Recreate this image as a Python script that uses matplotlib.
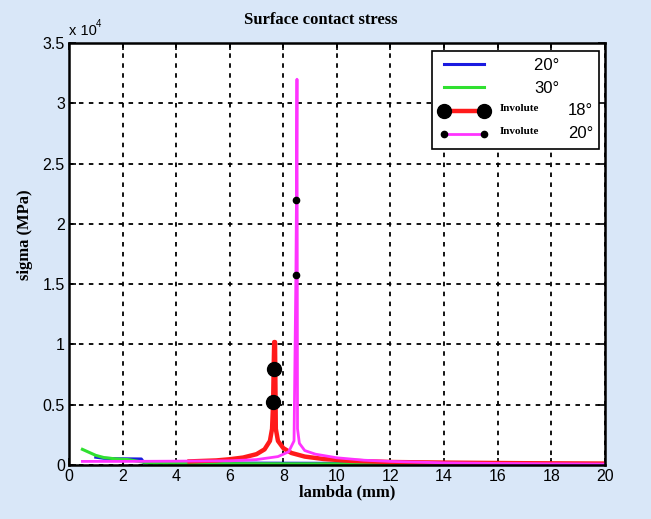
import matplotlib.pyplot as plt

# --- data ---
green_x = [0.5, 0.7, 1.0, 1.3, 1.7, 2.2, 3.0, 5.0, 8.0, 12.0, 16.0, 20.0]
green_y = [1300, 1100, 800, 620, 520, 450, 150, 120, 100, 100, 90, 80]

blue_x = [1.0, 1.3, 1.8, 2.7, 2.8, 5.0, 8.0, 12.0, 16.0, 20.0]
blue_y = [650, 560, 520, 500, 180, 170, 150, 130, 120, 110]

red_x = [4.5, 5.5, 6.0, 6.5, 7.0, 7.3, 7.5, 7.58, 7.62, 7.64, 7.66, 7.69, 7.72, 7.8, 8.0, 8.3,
         8.8, 9.5, 10.5, 12.0, 14.0, 17.0, 20.0]
red_y = [300, 380, 480, 620, 900, 1300, 2000, 3000, 5200, 8000, 10200, 10200, 3000, 2000, 1400,
         1000, 700, 500, 350, 250, 200, 150, 120]
red_marks = [8, 9]

mag_x = [0.5, 2.0, 4.0, 6.0, 7.0, 7.8, 8.2, 8.4, 8.47, 8.49, 8.51, 8.53, 8.6, 8.8, 9.2, 10.0,
         11.0, 12.0, 14.0, 16.0, 18.0, 20.0]
mag_y = [300, 300, 320, 350, 450, 700, 1100, 2000, 15800, 22000, 32000, 3000, 1800, 1200, 900,
         600, 400, 300, 180, 130, 100, 80]
mag_marks = [8, 9]

# the two involute rows get their angle text placed separately
legend_labels = ['20°' + '\u00a0' * 7, '30°', '', '']
involute_angles = ['18°', '20°']

bg = '#d9e7f8'
fig = plt.figure(figsize=(6.51, 5.19), dpi=100, facecolor=bg)
ax = fig.add_axes([0.106, 0.104, 0.823, 0.813])

lb, = ax.plot(blue_x, blue_y, color='#1a1ae0', lw=2.2)
lg, = ax.plot(green_x, green_y, color='#30e030', lw=2.2)
lr, = ax.plot(red_x, red_y, color='#ff1a1a', lw=3.2, marker='o', markersize=10,
              markerfacecolor='black', markeredgecolor='black', markevery=red_marks)
lm, = ax.plot(mag_x, mag_y, color='#ff33ff', lw=2.0, marker='o', markersize=4.5,
              markerfacecolor='black', markeredgecolor='black', markevery=mag_marks)

ax.set_xlim(0, 20)
ax.set_ylim(0, 35000)
ax.set_xticks(range(0, 21, 2))
ax.set_yticks([0, 5000, 10000, 15000, 20000, 25000, 30000, 35000])
ax.set_yticklabels(['0', '0.5', '1', '1.5', '2', '2.5', '3', '3.5'])
ax.grid(True, color='black', linestyle=(0, (2.5, 3)), linewidth=1.3)
ax.tick_params(direction='in', top=True, right=True, length=5, width=1.2,
               labelsize=11.5, pad=3)
for lab in ax.get_xticklabels() + ax.get_yticklabels():
    lab.set_family('Liberation Sans')
for sp in ax.spines.values():
    sp.set_linewidth(1.8)

ax.set_title('Surface contact stress', family='Liberation Serif', weight='bold',
             fontsize=12, pad=14, x=0.47)
ax.set_xlabel('lambda (mm)', family='Liberation Serif', weight='bold', fontsize=12)
ax.xaxis.set_label_coords(0.519, -0.045)
ax.set_ylabel('sigma (MPa)', family='Liberation Serif', weight='bold', fontsize=12)
ax.yaxis.set_label_coords(-0.067, 0.545)

fig.text(69 / 651, 1 - 35 / 519, 'x 10', family='Liberation Sans', fontsize=10.5)
fig.text(96 / 651, 1 - 27 / 519, '4', family='Liberation Sans', fontsize=7)

leg = ax.legend([lb, lg, lr, lm], legend_labels, loc='upper left',
                bbox_to_anchor=((432 - 69) / 536, (465 - 51) / 422),
                borderaxespad=0, borderpad=0.4, numpoints=2, handlelength=3.0,
                handletextpad=2.75, labelspacing=0.5, fancybox=False, framealpha=1,
                edgecolor='black', prop={'family': 'Liberation Sans', 'size': 12})
leg.get_frame().set_linewidth(1.2)
for yy, ang in zip([0.841, 0.786], involute_angles):
    ax.text(0.804, yy + 0.004, 'Involute', transform=ax.transAxes, family='Liberation Serif',
            weight='bold', fontsize=8, va='center', zorder=10)
    ax.text(0.931, yy, ang, transform=ax.transAxes, family='Liberation Sans',
            fontsize=12, va='center', zorder=10)

plt.savefig('out.png', dpi=100, facecolor=bg)
